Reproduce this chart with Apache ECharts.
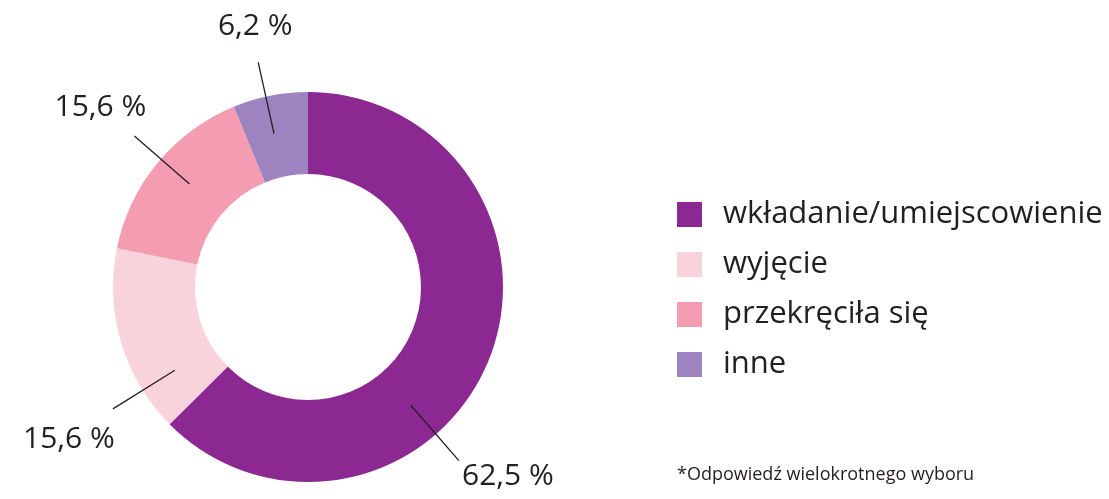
<!DOCTYPE html>
<html>
<head>
<meta charset="utf-8">
<script src="https://cdn.jsdelivr.net/npm/echarts@6/dist/echarts.min.js"></script>
<style>
  html, body { margin: 0; padding: 0; background: #fff; }
  #chart { width: 1109px; height: 499px; }
</style>
</head>
<body>
<div id="chart"></div>
<script>
// dane
var categories = ['wkładanie/umiejscowienie', 'wyjęcie', 'przekręciła się', 'inne'];
var values = [62.5, 15.6, 15.6, 6.2];
var colors = ['#8B2891', '#F9D3DC', '#F49CB1', '#9D83BF'];

// położenie etykiet (kąt od góry, zgodnie z zegarem) i przesunięcie tekstu od końca linii
var labelAngles = [139, 238, 311, 347.5];
var labelOffsets = [[49, 16], [-44, 31], [-34, -29], [-3, -36]];

var cx = 308, cy = 287;
var lineR1 = 157, lineR2 = 230;
var textColor = '#231F20';

var myChart = echarts.init(document.getElementById('chart'));

function polar(r, deg) {
    var a = deg * Math.PI / 180;
    return [cx + r * Math.sin(a), cy - r * Math.cos(a)];
}

var option = {
    animation: false,
    title: {
        text: '*Odpowiedź wielokrotnego wyboru',
        left: 677,
        top: 466,
        padding: 0,
        textStyle: {
            fontFamily: 'Open Sans',
            fontSize: 18,
            fontWeight: 'normal',
            color: textColor
        }
    },
    legend: {
        orient: 'vertical',
        left: 677,
        top: 199,
        padding: 0,
        icon: 'rect',
        itemWidth: 25,
        itemHeight: 25,
        itemGap: 19,
        selectedMode: false,
        data: categories,
        textStyle: {
            fontFamily: 'Open Sans',
            fontSize: 31,
            color: textColor,
            padding: [0, 0, 0, 16]
        }
    },
    series: [
        {
            // pierścień
            type: 'pie',
            z: 2,
            center: [cx, cy],
            radius: [113, 195],
            startAngle: 90,
            clockwise: true,
            emphasis: { disabled: true },
            itemStyle: { borderWidth: 0 },
            label: { show: false },
            labelLine: { show: false },
            data: categories.map(function (name, i) {
                return {
                    name: name,
                    value: values[i],
                    itemStyle: { color: colors[i] }
                };
            })
        },
        {
            // etykiety z liniami nad pierścieniem
            type: 'pie',
            z: 5,
            silent: true,
            center: [cx, cy],
            radius: [113, 195],
            startAngle: 90,
            clockwise: true,
            avoidLabelOverlap: false,
            emphasis: { disabled: true },
            itemStyle: { color: 'rgba(0,0,0,0)', borderWidth: 0 },
            label: {
                show: true,
                position: 'outside',
                fontFamily: 'Open Sans',
                fontSize: 30,
                color: textColor,
                formatter: function (p) {
                    return String(p.value).replace('.', ',') + ' %';
                }
            },
            labelLine: {
                show: true,
                showAbove: true,
                lineStyle: { color: textColor, width: 1.3 }
            },
            labelLayout: function (params) {
                var i = params.dataIndex;
                var a = labelAngles[i];
                var p1 = polar(lineR1, a);
                var p2 = polar(lineR2, a);
                return {
                    x: p2[0] + labelOffsets[i][0],
                    y: p2[1] + labelOffsets[i][1],
                    align: 'center',
                    verticalAlign: 'middle',
                    labelLinePoints: [p1, p2, p2]
                };
            },
            data: categories.map(function (name, i) {
                return { name: name, value: values[i] };
            })
        }
    ]
};
myChart.setOption(option);
window.addEventListener('resize', function () {
    myChart.resize();
});
</script>
</body>
</html>
